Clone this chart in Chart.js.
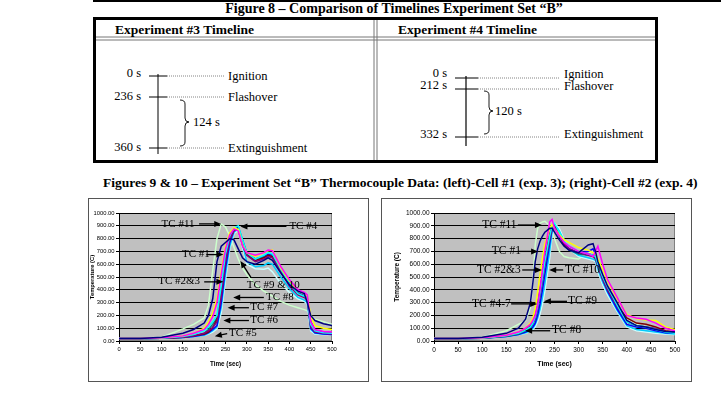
<!DOCTYPE html>
<html>
<head>
<meta charset="utf-8">
<script src="https://cdn.jsdelivr.net/npm/chart.js@4/dist/chart.umd.min.js"></script>
<style>
  body { margin: 0; background: #fff; width: 723px; height: 399px; overflow: hidden; position: relative; }
  .serif { font-family: "Liberation Serif", "Times New Roman", serif; }
  #caption { position: absolute; left: 103px; top: 175px; font-size: 13.5px; font-weight: bold; white-space: nowrap; }
  .box { position: absolute; top: 198px; height: 184px; box-sizing: border-box; border: 1px solid #555; }
  .box canvas { position: absolute; left: 0; top: 0; }
</style>
</head>
<body>

<svg width="723" height="166" style="position:absolute;left:0;top:0" class="serif">
  <line x1="93" y1="1" x2="721" y2="1" stroke="#000" stroke-width="2"/>
  <text x="394" y="13" text-anchor="middle" font-weight="bold" font-size="14">Figure 8 – Comparison of Timelines Experiment Set “B”</text>
  <rect x="94.5" y="18.5" width="562" height="143" fill="none" stroke="#000" stroke-width="3"/>
  <line x1="96" y1="37" x2="655" y2="37" stroke="#777"/>
  <line x1="96" y1="40" x2="655" y2="40" stroke="#777"/>
  <line x1="374" y1="20" x2="374" y2="160" stroke="#777"/>
  <line x1="377" y1="20" x2="377" y2="160" stroke="#777"/>
  <text x="115" y="34" font-weight="bold" font-size="13.5">Experiment #3 Timeline</text>
  <text x="398" y="34" font-weight="bold" font-size="13.5">Experiment #4 Timeline</text>

  <!-- experiment 3 timeline -->
  <line x1="158" y1="74" x2="158" y2="154" stroke="#555" stroke-width="1.5"/>
  <g stroke="#000">
    <line x1="149" y1="76" x2="167" y2="76"/>
    <line x1="149" y1="97" x2="167" y2="97"/>
    <line x1="149" y1="148" x2="167" y2="148"/>
  </g>
  <g stroke="#666" stroke-width="0.8" stroke-dasharray="1,1">
    <line x1="167" y1="76" x2="225" y2="76"/>
    <line x1="167" y1="97" x2="225" y2="97"/>
    <line x1="167" y1="148" x2="225" y2="148"/>
  </g>
  <g font-size="12.5">
    <text x="141" y="77" text-anchor="end">0 s</text>
    <text x="141" y="100" text-anchor="end">236 s</text>
    <text x="141" y="151" text-anchor="end">360 s</text>
    <text x="228" y="80">Ignition</text>
    <text x="228" y="101">Flashover</text>
    <text x="228" y="152">Extinguishment</text>
    <text x="193" y="126">124 s</text>
  </g>
  <path d="M180 100 Q185 100 185 104 L185 118 Q185 122 189 122 Q185 122 185 126 L185 142 Q185 146 180 146" fill="none" stroke="#000" stroke-width="0.9"/>

  <!-- experiment 4 timeline -->
  <line x1="466" y1="76" x2="466" y2="146" stroke="#000" stroke-width="1.2"/>
  <g stroke="#000">
    <line x1="455" y1="78" x2="478" y2="78"/>
    <line x1="455" y1="89" x2="478" y2="89"/>
    <line x1="455" y1="137" x2="478" y2="137"/>
  </g>
  <g stroke="#666" stroke-width="0.8" stroke-dasharray="1,1">
    <line x1="478" y1="78" x2="560" y2="78"/>
    <line x1="478" y1="89" x2="560" y2="89"/>
    <line x1="478" y1="137" x2="560" y2="137"/>
  </g>
  <g font-size="12.5">
    <text x="447" y="77" text-anchor="end">0 s</text>
    <text x="447" y="89" text-anchor="end">212 s</text>
    <text x="447" y="138" text-anchor="end">332 s</text>
    <text x="564" y="78">Ignition</text>
    <text x="564" y="90">Flashover</text>
    <text x="564" y="138">Extinguishment</text>
    <text x="495" y="115">120 s</text>
  </g>
  <path d="M484 91 Q489 91 489 95 L489 107 Q489 111 493 111 Q489 111 489 115 L489 130 Q489 134 484 134" fill="none" stroke="#000" stroke-width="0.9"/>
</svg>

<div id="caption" class="serif">Figures 9 &amp; 10 – Experiment Set “B” Thermocouple Data: (left)-Cell #1 (exp. 3); (right)-Cell #2 (exp. 4)</div>

<div class="box" style="left:88px;width:281px"><canvas id="chartExp3" width="279" height="182"></canvas></div>
<div class="box" style="left:381px;width:311px"><canvas id="chartExp4" width="309" height="182"></canvas></div>

<script>
// Cell #1, experiment 3 (seconds / deg C)
const timeExp3 = [0, 50, 100, 150, 175, 200, 210, 220, 230, 240, 250, 260, 270, 280, 290, 300, 320, 340, 350, 360, 380, 400, 420, 435, 442, 450, 460, 480, 500];
const tc1Exp3  = [20, 20, 30, 60, 90, 140, 200, 330, 620, 740, 770, 800, 790, 720, 650, 620, 600, 630, 650, 630, 530, 440, 390, 370, 300, 200, 160, 135, 120];
const tc2Exp3  = [20, 20, 25, 40, 60, 90, 130, 190, 300, 520, 720, 830, 875, 860, 740, 690, 670, 690, 710, 705, 580, 480, 400, 380, 360, 150, 90, 75, 70];
const tc3Exp3  = [20, 20, 25, 40, 60, 100, 150, 220, 330, 550, 740, 845, 885, 870, 750, 690, 660, 690, 705, 710, 570, 470, 390, 370, 350, 200, 120, 100, 90];
const tc4Exp3  = [20, 20, 22, 35, 50, 80, 110, 150, 200, 430, 680, 820, 885, 900, 790, 690, 640, 670, 690, 680, 560, 450, 370, 350, 330, 130, 80, 65, 60];
const tc5Exp3  = [20, 20, 22, 30, 40, 60, 80, 105, 150, 340, 610, 790, 860, 880, 770, 670, 620, 640, 660, 650, 540, 430, 360, 340, 320, 110, 70, 60, 55];
const tc6Exp3  = [20, 20, 22, 30, 40, 55, 70, 105, 170, 370, 630, 800, 865, 865, 750, 675, 630, 650, 670, 660, 550, 440, 370, 350, 330, 150, 85, 70, 65];
const tc7Exp3  = [20, 20, 22, 30, 40, 60, 90, 130, 180, 400, 650, 810, 875, 875, 760, 675, 630, 655, 665, 660, 555, 445, 370, 350, 330, 120, 75, 65, 60];
const tc8Exp3  = [20, 20, 22, 28, 35, 50, 65, 90, 120, 300, 570, 770, 870, 890, 790, 690, 640, 660, 680, 670, 560, 450, 375, 355, 340, 100, 65, 55, 50];
const tc9Exp3  = [20, 20, 22, 28, 35, 45, 60, 80, 110, 260, 520, 740, 850, 875, 750, 620, 580, 590, 610, 600, 500, 410, 340, 320, 300, 90, 60, 55, 50];
const tc10Exp3 = [25, 20, 22, 28, 35, 45, 55, 70, 95, 220, 480, 720, 840, 865, 730, 600, 565, 560, 570, 540, 450, 380, 330, 310, 290, 80, 55, 50, 50];
const tc11Exp3 = [20, 20, 30, 95, 130, 180, 280, 550, 800, 915, 890, 820, 730, 640, 570, 520, 440, 390, 370, 350, 310, 280, 260, 245, 235, 200, 170, 150, 130];

// Cell #2, experiment 4
const timeExp4 = [0, 50, 100, 150, 175, 190, 200, 205, 210, 215, 220, 225, 230, 240, 245, 250, 260, 270, 280, 300, 320, 330, 335, 340, 350, 360, 380, 400, 420, 440, 460, 480, 500];
const tc1Exp4  = [20, 20, 30, 60, 100, 170, 300, 450, 620, 720, 780, 820, 850, 880, 880, 850, 790, 740, 710, 690, 750, 760, 700, 620, 520, 430, 300, 160, 120, 110, 90, 75, 70];
const tc2Exp4  = [20, 20, 25, 45, 70, 100, 130, 160, 200, 280, 400, 550, 700, 930, 950, 880, 820, 770, 740, 700, 680, 660, 700, 740, 600, 480, 340, 200, 180, 170, 140, 100, 80];
const tc3Exp4  = [20, 20, 25, 45, 70, 100, 140, 180, 250, 380, 520, 650, 760, 880, 910, 880, 830, 790, 770, 730, 710, 690, 680, 640, 560, 470, 330, 210, 175, 165, 160, 110, 90];
const tc4Exp4  = [20, 20, 22, 40, 60, 85, 110, 140, 190, 270, 380, 500, 620, 820, 900, 920, 850, 780, 740, 700, 680, 670, 660, 600, 500, 420, 280, 150, 120, 110, 90, 70, 60];
const tc5Exp4  = [20, 20, 22, 40, 60, 85, 110, 140, 180, 260, 360, 480, 600, 800, 880, 900, 830, 760, 720, 690, 670, 660, 640, 580, 480, 400, 270, 150, 120, 110, 95, 75, 65];
const tc6Exp4  = [20, 20, 22, 40, 60, 90, 120, 150, 200, 280, 400, 520, 640, 830, 900, 910, 830, 750, 720, 690, 680, 670, 660, 600, 500, 410, 280, 180, 140, 130, 110, 80, 70];
const tc7Exp4  = [20, 20, 22, 38, 55, 80, 105, 130, 170, 250, 350, 470, 590, 790, 880, 900, 820, 750, 710, 680, 670, 665, 650, 590, 490, 400, 270, 150, 120, 110, 95, 75, 65];
const tc8Exp4  = [20, 20, 22, 35, 50, 70, 90, 110, 140, 200, 290, 400, 520, 760, 870, 900, 830, 760, 720, 690, 700, 720, 680, 600, 480, 390, 250, 130, 110, 100, 80, 65, 60];
const tc9Exp4  = [20, 20, 22, 35, 50, 65, 80, 100, 130, 180, 250, 340, 450, 700, 850, 910, 860, 780, 720, 670, 650, 640, 630, 560, 460, 380, 240, 120, 90, 80, 70, 60, 55];
const tc10Exp4 = [20, 20, 22, 35, 50, 60, 75, 90, 110, 150, 210, 290, 390, 650, 820, 920, 880, 790, 720, 660, 640, 630, 620, 540, 440, 360, 230, 110, 80, 70, 60, 55, 50];
const tc11Exp4 = [20, 20, 30, 80, 130, 160, 260, 450, 750, 880, 920, 930, 935, 900, 860, 800, 700, 660, 650, 640, 690, 700, 640, 580, 500, 420, 280, 180, 130, 110, 95, 80, 60];

const tcNames = ['TC #1', 'TC #2', 'TC #3', 'TC #4', 'TC #5', 'TC #6', 'TC #7', 'TC #8', 'TC #9', 'TC #10', 'TC #11'];
const tcColors = ['#000080', '#FF00FF', '#FFFF00', '#00FFFF', '#800080', '#800000', '#008080', '#0000FF', '#00CCFF', '#CCFFFF', '#CCFFCC'];

// callouts: label, text anchor (time, temp), arrow from -> to (time, temp)
const notesExp3 = [
    ['TC #11', 100, 915, 188, 915, 240, 915],
    ['TC #4', 400, 895, 393, 895, 285, 895],
    ['TC #1', 148, 675, 205, 675, 245, 675],
    ['TC #2&3', 92, 465, 200, 462, 245, 462],
    ['TC #9 & 10', 300, 440, 310, 495, 285, 625],
    ['TC #8', 345, 344, 340, 340, 268, 340],
    ['TC #7', 308, 266, 305, 260, 255, 260],
    ['TC #6', 308, 164, 305, 160, 245, 160],
    ['TC #5', 258, 64, 254, 58, 225, 38]
];
const notesExp4 = [
    ['TC #11', 100, 906, 174, 906, 224, 906],
    ['TC #1', 120, 703, 174, 700, 216, 700],
    ['TC #2&3', 89, 555, 183, 555, 224, 555],
    ['TC #10', 272, 555, 268, 555, 239, 555],
    ['TC #4-7', 79, 289, 160, 290, 214, 290],
    ['TC #9', 278, 313, 276, 310, 228, 310],
    ['TC #8', 245, 86, 241, 80, 189, 80]
];

const plotBack = {
    id: 'plotBack',
    beforeDraw(chart) {
        const { ctx, chartArea: a } = chart;
        ctx.save();
        ctx.fillStyle = '#C0C0C0';
        ctx.fillRect(a.left, a.top, a.width, a.height);
        ctx.strokeStyle = '#808080';
        ctx.lineWidth = 1;
        ctx.strokeRect(a.left + 0.5, a.top + 0.5, a.width - 1, a.height - 1);
        ctx.restore();
    }
};

const callouts = {
    id: 'callouts',
    afterDatasetsDraw(chart, args, opts) {
        const { ctx, scales: { x, y } } = chart;
        ctx.save();
        ctx.font = opts.size + 'px "Liberation Serif"';
        ctx.textBaseline = 'middle';
        ctx.fillStyle = '#000';
        ctx.strokeStyle = '#000';
        opts.notes.forEach(n => {
            ctx.fillText(n[0], x.getPixelForValue(n[1]), y.getPixelForValue(n[2]));
            const x0 = x.getPixelForValue(n[3]), y0 = y.getPixelForValue(n[4]);
            const x1 = x.getPixelForValue(n[5]), y1 = y.getPixelForValue(n[6]);
            const ang = Math.atan2(y1 - y0, x1 - x0);
            ctx.lineWidth = 1.3;
            ctx.beginPath();
            ctx.moveTo(x0, y0);
            ctx.lineTo(x1 - 5 * Math.cos(ang), y1 - 5 * Math.sin(ang));
            ctx.stroke();
            ctx.beginPath();
            ctx.moveTo(x1, y1);
            ctx.lineTo(x1 - 7 * Math.cos(ang) + 3 * Math.sin(ang), y1 - 7 * Math.sin(ang) - 3 * Math.cos(ang));
            ctx.lineTo(x1 - 7 * Math.cos(ang) - 3 * Math.sin(ang), y1 - 7 * Math.sin(ang) + 3 * Math.cos(ang));
            ctx.closePath();
            ctx.fill();
        });
        ctx.restore();
    }
};

// lay: canvas padding + axis sizes so the plot area lands where the scan has it
function makeChart(id, times, series, notes, lay) {
    const datasets = series.map((vals, i) => ({
        label: tcNames[i],
        data: vals.map((v, k) => ({ x: times[k], y: v })),
        borderColor: tcColors[i],
        borderWidth: 1.5,
        pointRadius: 0,
        tension: 0,
        fill: false
    }));
    const tickFont = { family: '"Liberation Sans", Arial', size: lay.font };
    return new Chart(document.getElementById(id), {
        type: 'line',
        data: { datasets: datasets },
        plugins: [plotBack, callouts],
        options: {
            responsive: false,
            animation: false,
            devicePixelRatio: 1,
            layout: { padding: { top: 14, right: lay.right, bottom: 12, left: lay.left } },
            plugins: {
                legend: { display: false },
                tooltip: { enabled: false },
                callouts: { notes: notes, size: lay.noteSize }
            },
            scales: {
                x: {
                    type: 'linear', min: 0, max: 500,
                    afterFit: s => { s.height = 28; },
                    ticks: { stepSize: 50, font: tickFont, color: '#000', padding: 2, maxRotation: 0 },
                    grid: { drawOnChartArea: false, tickLength: 3, color: '#000' },
                    border: { color: '#000' },
                    title: { display: true, text: 'Time (sec)', color: '#000', font: { family: '"Liberation Sans", Arial', size: lay.font + 0.5, weight: 'bold' }, padding: { top: 0, bottom: 1 } }
                },
                y: {
                    min: 0, max: 1000,
                    afterFit: s => { s.width = lay.yWidth; },
                    ticks: { stepSize: 100, font: tickFont, color: '#000', padding: 1.5, callback: v => v.toFixed(2) },
                    grid: { color: '#000', tickLength: 3 },
                    border: { color: '#000' },
                    title: { display: true, text: 'Temperature (C)', color: '#000', font: { family: '"Liberation Sans", Arial', size: lay.font, weight: 'bold' }, padding: { top: lay.titlePad, bottom: 0 } }
                }
            }
        }
    });
}

makeChart('chartExp3', timeExp3,
    [tc1Exp3, tc2Exp3, tc3Exp3, tc4Exp3, tc5Exp3, tc6Exp3, tc7Exp3, tc8Exp3, tc9Exp3, tc10Exp3, tc11Exp3], notesExp3,
    { left: 0, right: 36, yWidth: 30, font: 5.8, titlePad: 0, noteSize: 11 });
makeChart('chartExp4', timeExp4,
    [tc1Exp4, tc2Exp4, tc3Exp4, tc4Exp4, tc5Exp4, tc6Exp4, tc7Exp4, tc8Exp4, tc9Exp4, tc10Exp4, tc11Exp4], notesExp4,
    { left: 4, right: 16, yWidth: 48, font: 6.5, titlePad: 7, noteSize: 11.5 });
</script>
</body>
</html>
